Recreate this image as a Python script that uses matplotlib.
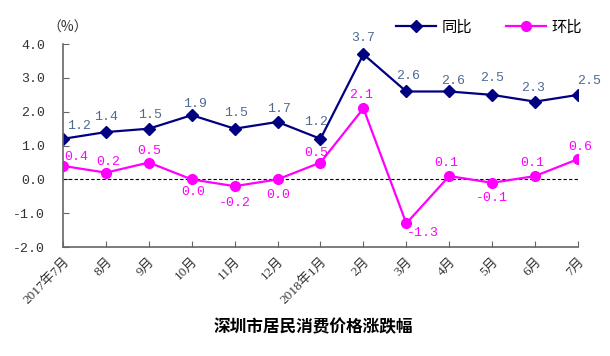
import matplotlib
matplotlib.use("Agg")
import matplotlib.pyplot as plt

plt.rcParams['font.family'] = ['Liberation Serif', 'Noto Sans CJK SC']

months = ["2017年7月", "8月", "9月", "10月", "11月", "12月", "2018年1月",
          "2月", "3月", "4月", "5月", "6月", "7月"]
yoy = [1.2, 1.4, 1.5, 1.9, 1.5, 1.7, 1.2, 3.7, 2.6, 2.6, 2.5, 2.3, 2.5]
mom = [0.4, 0.2, 0.5, 0.0, -0.2, 0.0, 0.5, 2.1, -1.3, 0.1, -0.1, 0.1, 0.6]

# label offsets in pixels (dx, dy)
yoy_off = [(16, 13), (0, 15), (1, 14), (3, 11), (1, 16), (1, 13), (-4, 17),
           (0, 16), (2, 15), (4, 10), (0, 17), (-2, 14), (11, 14)]
mom_off = [(13, 9), (2, 11), (0, 12), (1, -13), (0, -17), (1, -16), (-4, 10),
           (-2, 13), (17, -10), (-3, 13), (0, -15), (-3, 13), (2, 12)]

navy = "#000080"
pink = "#FF00FF"
mono = ["Liberation Mono", "DejaVu Sans Mono"]

fig = plt.figure(figsize=(6.10, 3.56), dpi=100)
ax = fig.add_axes([0.1033, 0.306, 0.8442, 0.570])
x = list(range(len(months)))

ax.axhline(0, color="black", lw=0.8, ls=(0, (3, 2)))
ax.plot(x, yoy, color=navy, lw=1.6, marker="D", ms=6, label="同比")
ax.plot(x, mom, color=pink, lw=1.6, marker="o", ms=7, label="环比")

for i in x:
    ax.annotate(f"{yoy[i]:.1f}", (i, yoy[i]), xytext=yoy_off[i],
                textcoords="offset pixels", ha="center", va="center",
                color="#4F6A8F", fontsize=9.5, family=mono)
    ax.annotate(f"{mom[i]:.1f}", (i, mom[i]), xytext=mom_off[i],
                textcoords="offset pixels", ha="center", va="center",
                color=pink, fontsize=9.5, family=mono)

ax.set_xlim(0, 12)
ax.set_ylim(-2, 4)
yt = [-2, -1, 0, 1, 2, 3, 4]
ax.set_yticks(yt)
ax.set_yticklabels([f"{v:.1f}" for v in yt], fontsize=9.5, color="#333333",
                   family=mono)
ax.set_xticks(x)
ax.set_xticklabels(months, rotation=45, ha="right", rotation_mode="anchor",
                   fontsize=9.5, color="#333333")
for s in ["top", "right"]:
    ax.spines[s].set_visible(False)
for s in ["left", "bottom"]:
    ax.spines[s].set_color("#666666")
    ax.spines[s].set_linewidth(1.2)
ax.tick_params(axis="both", direction="in", color="#666666", length=4)
ax.tick_params(axis="y", pad=13)
ax.tick_params(axis="x", pad=6)

fig.text(0.111, 0.921, "（%）", fontsize=10, color="#333333", ha="center",
         va="center", family=["Noto Sans CJK SC"])
ax.legend(loc="upper right", bbox_to_anchor=(1.035, 1.185), ncol=2, frameon=False,
          fontsize=11, handlelength=2.6, columnspacing=2.2, handletextpad=0.4)
fig.text(0.513, 0.081, "深圳市居民消费价格涨跌幅", fontsize=12, fontweight="bold",
         ha="center", va="center", family=["Noto Sans CJK SC"])

fig.savefig("out.png", dpi=100)
